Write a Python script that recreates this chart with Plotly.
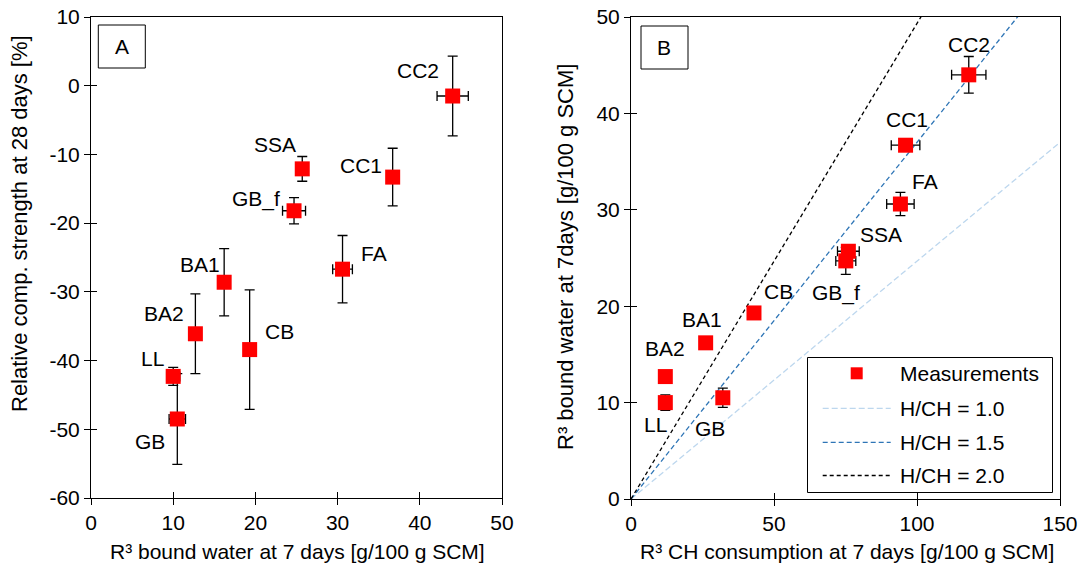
import plotly.graph_objects as go

# ---------------------------------------------------------------- data
materials = ["CC2", "SSA", "CC1", "GB_f", "FA", "BA1", "BA2", "CB", "LL", "GB"]

# R3 bound water at 7 days [g/100 g SCM] (x in panel A, y in panel B)
bound_water_7d = [44.0, 25.7, 36.7, 24.7, 30.6, 16.2, 12.7, 19.3, 10.0, 10.5]
bound_water_7d_err = [1.9, 0.0, 0.0, 1.4, 1.2, 0.0, 0.0, 0.0, 0.8, 1.0]

# Relative compressive strength at 28 days [%]
rel_strength_28d = [-1.5, -12.1, -13.3, -18.2, -26.7, -28.6, -36.1, -38.4, -42.3, -48.5]
rel_strength_28d_err = [5.8, 1.8, 4.2, 1.9, 4.9, 4.9, 5.8, 8.7, 1.3, 6.6]

# R3 CH consumption at 7 days [g/100 g SCM]
ch_consumption_7d = [118.1, 76.0, 96.0, 75.1, 94.2, 26.1, 12.0, 43.0, 12.0, 32.1]
ch_consumption_7d_err = [6.0, 3.8, 5.0, 3.5, 4.8, 0.0, 0.0, 0.0, 0.0, 0.0]

# Reference lines H/CH: bound water reached at 150 g CH consumption
hch_labels = ["H/CH = 1.0", "H/CH = 1.5", "H/CH = 2.0"]
hch_x = [0, 150]
hch_y_end = [37.0, 55.5, 74.0]

# tick values / labels (plain hyphen minus)
strength_ticks = [-60, -50, -40, -30, -20, -10, 0, 10]
strength_tick_text = ["-60", "-50", "-40", "-30", "-20", "-10", "0", "10"]

# ---------------------------------------------------------------- styling
FONT = "Liberation Sans, Arial, sans-serif"
FS = 21
FS_YTITLE = 22
W, H = 1082, 579
hch_colors = ["#BDD7EE", "#2E75B6", "#000000"]
hch_dash = ["6px,3px", "5px,3px", "4px,3px"]

# label offsets in px (dx, dy up) for each material
offsets_a = {"CC2": (-35, 26), "SSA": (-27, 24), "CC1": (-32, 12), "GB_f": (-38, 12),
             "FA": (31, 16), "BA1": (-24, 18), "BA2": (-31, 20), "CB": (30, 18),
             "LL": (-21, 18), "GB": (-27, -23)}
offsets_b = {"CC2": (0, 30), "SSA": (33, 17), "CC1": (1, 26), "GB_f": (-10, -32),
             "FA": (25, 23), "BA1": (-4, 23), "BA2": (0, 28), "CB": (25, 21),
             "LL": (-10, -22), "GB": (-13, -31)}

dom_xa = [91 / W, 502 / W]
dom_ya = [(H - 498) / H, (H - 17) / H]
dom_xb = [631 / W, 1060 / W]
dom_yb = [(H - 499) / H, (H - 17) / H]

fig = go.Figure()

# H/CH reference lines (panel B)
for lab, yend, col, dash in zip(hch_labels, hch_y_end, hch_colors, hch_dash):
    fig.add_trace(go.Scatter(
        x=hch_x, y=[0, yend], mode="lines", xaxis="x2", yaxis="y2",
        line=dict(color=col, width=1.3, dash=dash), name=lab,
        showlegend=False, hoverinfo="skip"))

marker = dict(symbol="square", size=15, color="#FF0000", line=dict(width=0))
err_style = dict(type="data", color="#000000", thickness=1.3, width=5)

# Panel A
fig.add_trace(go.Scatter(
    x=bound_water_7d, y=rel_strength_28d, mode="markers", marker=marker,
    error_x=dict(array=bound_water_7d_err, **err_style),
    error_y=dict(array=rel_strength_28d_err, **err_style),
    xaxis="x", yaxis="y", showlegend=False, name="Measurements"))

# Panel B
fig.add_trace(go.Scatter(
    x=ch_consumption_7d, y=bound_water_7d, mode="markers", marker=marker,
    error_x=dict(array=ch_consumption_7d_err, **err_style),
    error_y=dict(array=bound_water_7d_err, **err_style),
    xaxis="x2", yaxis="y2", showlegend=False, name="Measurements"))

# invisible traces carrying the inner tick axes
fig.add_trace(go.Scatter(x=[None], y=[None], xaxis="x3", yaxis="y3",
                         showlegend=False, hoverinfo="skip"))
fig.add_trace(go.Scatter(x=[None], y=[None], xaxis="x4", yaxis="y4",
                         showlegend=False, hoverinfo="skip"))

annotations = []
for name, xv, yv in zip(materials, bound_water_7d, rel_strength_28d):
    dx, dy = offsets_a[name]
    annotations.append(dict(x=xv, y=yv, xref="x", yref="y", text=name,
                            showarrow=False, xshift=dx, yshift=dy,
                            font=dict(family=FONT, size=FS, color="#000")))
for name, xv, yv in zip(materials, ch_consumption_7d, bound_water_7d):
    dx, dy = offsets_b[name]
    annotations.append(dict(x=xv, y=yv, xref="x2", yref="y2", text=name,
                            showarrow=False, xshift=dx, yshift=dy,
                            font=dict(family=FONT, size=FS, color="#000")))

# axis titles
txt = dict(showarrow=False, font=dict(family=FONT, size=FS, color="#000"),
           xref="paper", yref="paper", xanchor="center", yanchor="middle")
ytxt = {**txt, "font": dict(family=FONT, size=FS_YTITLE, color="#000"), "textangle": -90}
annotations += [
    dict(text="R³ bound water at 7 days [g/100 g SCM]", x=297 / W, y=(H - 551) / H, **txt),
    dict(text="R³ CH consumption at 7 days [g/100 g SCM]", x=847 / W, y=(H - 551) / H, **txt),
    dict(text="Relative comp. strength at 28 days [%]", x=20 / W, y=(H - 224) / H, **ytxt),
    dict(text="R³ bound water at 7days [g/100 g SCM]", x=566 / W, y=(H - 257) / H, **ytxt),
    dict(text="A", x=121.8 / W, y=(H - 46.5) / H, **txt),
    dict(text="B", x=664.5 / W, y=(H - 47.5) / H, **txt),
]

shapes = [
    dict(type="rect", xref="paper", yref="paper", x0=98.3 / W, x1=145.3 / W,
         y0=(H - 68) / H, y1=(H - 25) / H, line=dict(color="#000", width=1)),
    dict(type="rect", xref="paper", yref="paper", x0=641 / W, x1=688 / W,
         y0=(H - 69) / H, y1=(H - 26) / H, line=dict(color="#000", width=1)),
]

# legend (panel B)
shapes.append(dict(type="rect", xref="paper", yref="paper", x0=807.5 / W, x1=1052.5 / W,
                   y0=(H - 492.5) / H, y1=(H - 357.5) / H,
                   line=dict(color="#000", width=1), fillcolor="#FFFFFF", layer="above"))
row_y = [373.3, 408.3, 442.3, 475.5]
shapes.append(dict(type="rect", xref="paper", yref="paper",
                   x0=850.7 / W, x1=862.7 / W, y0=(H - row_y[0] - 6) / H, y1=(H - row_y[0] + 6) / H,
                   line=dict(width=0), fillcolor="#FF0000"))
annotations.append(dict(text="Measurements", x=898 / W, y=(H - row_y[0]) / H,
                        **{**txt, "xanchor": "left"}))
for i, (lab, col, dash) in enumerate(zip(hch_labels, hch_colors, hch_dash)):
    yy = (H - row_y[i + 1]) / H
    shapes.append(dict(type="line", xref="paper", yref="paper", x0=822.7 / W, x1=890.7 / W,
                       y0=yy, y1=yy, line=dict(color=col, width=1.3, dash=dash)))
    annotations.append(dict(text=lab, x=898 / W, y=yy, **{**txt, "xanchor": "left"}))

axis_common = dict(showgrid=False, zeroline=False, showline=True, linecolor="#000",
                   linewidth=1, mirror=True, ticks="outside", ticklen=6, tickwidth=1,
                   tickcolor="#000", automargin=False,
                   tickfont=dict(family=FONT, size=FS, color="#000"))
inner_common = dict(showgrid=False, zeroline=False, showline=False, ticks="inside",
                    ticklen=6, tickwidth=1, tickcolor="#000", showticklabels=False,
                    automargin=False)

fig.update_layout(
    width=W, height=H, margin=dict(l=0, r=0, t=0, b=0, pad=0, autoexpand=False),
    paper_bgcolor="#FFFFFF", plot_bgcolor="#FFFFFF", showlegend=False,
    xaxis=dict(domain=dom_xa, anchor="y", range=[0, 50], dtick=10, **axis_common),
    yaxis=dict(domain=dom_ya, anchor="x", range=[-60, 10], tickvals=strength_ticks,
               ticktext=strength_tick_text, **axis_common),
    xaxis2=dict(domain=dom_xb, anchor="y2", range=[0, 150], dtick=50, **axis_common),
    yaxis2=dict(domain=dom_yb, anchor="x2", range=[0, 50], dtick=10, **axis_common),
    xaxis3=dict(overlaying="x", anchor="y", range=[0, 50], dtick=10, **inner_common),
    yaxis3=dict(overlaying="y", anchor="x", range=[-60, 10], dtick=10, **inner_common),
    xaxis4=dict(overlaying="x2", anchor="y2", range=[0, 150], dtick=50, **inner_common),
    yaxis4=dict(overlaying="y2", anchor="x2", range=[0, 50], dtick=10, **inner_common),
    annotations=annotations, shapes=shapes,
)

fig.write_html("out.html")
